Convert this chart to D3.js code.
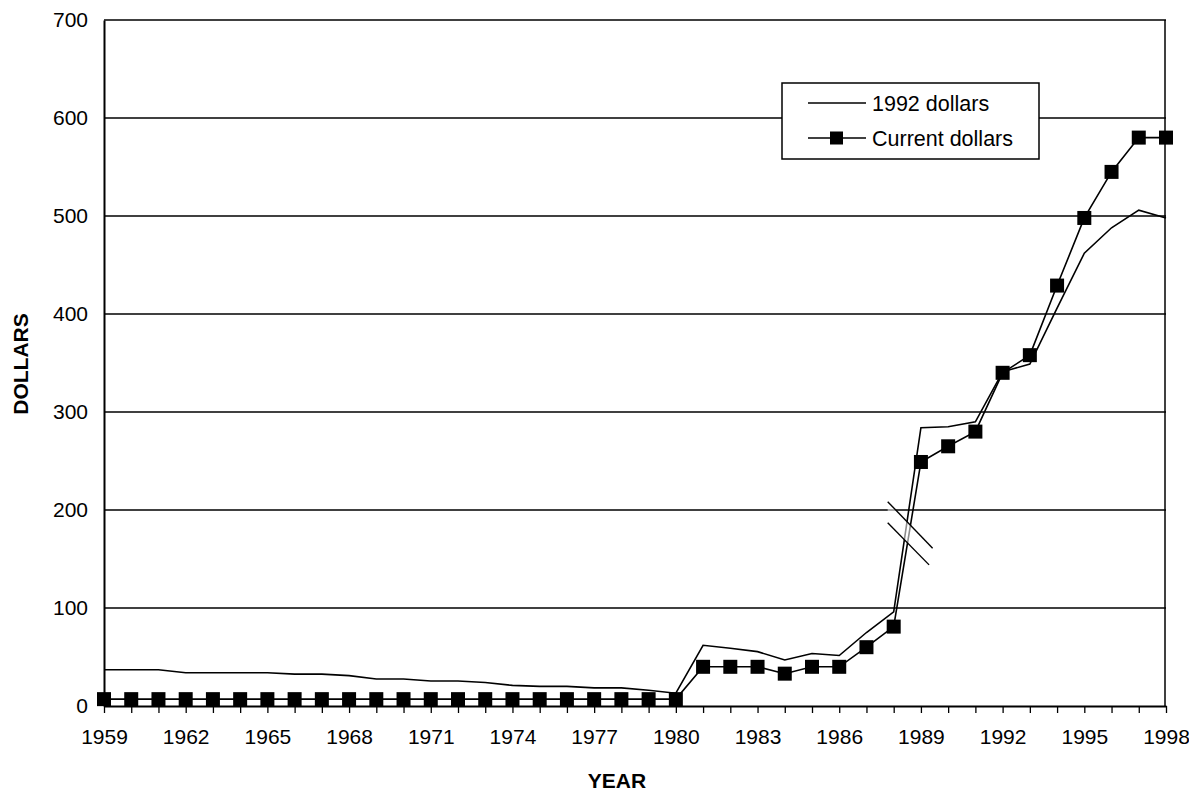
<!DOCTYPE html>
<html><head><meta charset="utf-8">
<script src="https://cdn.jsdelivr.net/npm/d3@7"></script>
<style>body{margin:0;background:#fff}svg text{font-family:"Liberation Sans",Arial,sans-serif}</style>
</head><body><svg id="c" width="1189" height="791"></svg>
<script>
const years = d3.range(1959, 1999);
const dollars1992 = [37,37,37,34,34,34,34,32.5,32.5,31,27.5,27.5,25.5,25.5,24,21,20,20,18.5,18.5,16,13,
  62,59,55.5,47,53.5,51.5,75,96,284,285,290,341,349,406,462,488,506,498];
const currentDollars = [7,7,7,7,7,7,7,7,7,7,7,7,7,7,7,7,7,7,7,7,7,7,
  40,40,40,33,40,40,60,81,249,265,280,340,358,429,498,545,580,580];
const yTicks = [0,100,200,300,400,500,600,700];
const xTickYears = d3.range(1959, 1999, 3);
const seriesNames = ["1992 dollars","Current dollars"];
const breakMarks = [[[1987.78,208.5],[1989.43,161]],[[1987.78,187],[1989.3,144]]];

const svg = d3.select("#c");
const L=104, R=1166, T=20, B=706;
const x = d3.scaleLinear().domain([1959,1998]).range([L,R]);
const y = d3.scaleLinear().domain([0,700]).range([B,T]);
const FONT="Liberation Sans, Arial, sans-serif";

// gridlines
svg.append("g").selectAll("line").data(yTicks.filter(v=>v>0 && v<700)).join("line")
  .attr("x1",L).attr("x2",R).attr("y1",d=>y(d)).attr("y2",d=>y(d))
  .attr("stroke","#000").attr("stroke-width",1.3);
// frame top/right
svg.append("line").attr("x1",L).attr("x2",R).attr("y1",y(700)).attr("y2",y(700)).attr("stroke","#000").attr("stroke-width",1.5);
svg.append("line").attr("x1",R-1).attr("x2",R-1).attr("y1",T).attr("y2",B).attr("stroke","#000").attr("stroke-width",1.5);

// y axis
const ya = d3.axisLeft(y).tickValues(yTicks).tickSize(0).tickPadding(16);
const gy = svg.append("g").attr("transform",`translate(${L},0)`).call(ya);
gy.select(".domain").attr("stroke","#000").attr("stroke-width",2);
gy.selectAll("text").attr("font-size",21).attr("fill","#000").attr("font-family",FONT);

// x axis
const xa = d3.axisBottom(x).tickValues(years).tickSize(7).tickSizeOuter(0).tickPadding(16)
  .tickFormat(d=> xTickYears.includes(d) ? String(d) : "");
const gx = svg.append("g").attr("transform",`translate(0,${B})`).call(xa);
gx.select(".domain").attr("stroke","#000").attr("stroke-width",2);
gx.selectAll(".tick line").attr("stroke","#000").attr("stroke-width",1.3);
gx.selectAll("text").attr("font-size",21).attr("fill","#000").attr("font-family",FONT);

// axis titles
svg.append("text").attr("transform",`translate(28,${(T+B)/2+1}) rotate(-90)`).attr("text-anchor","middle")
  .attr("font-size",21).attr("font-weight","bold").text("DOLLARS");
svg.append("text").attr("x",617).attr("y",788).attr("text-anchor","middle")
  .attr("font-size",21).attr("font-weight","bold").text("YEAR");

const line = d3.line().x((d,i)=>x(years[i])).y(d=>y(d));
svg.append("path").datum(dollars1992).attr("d",line).attr("fill","none").attr("stroke","#000").attr("stroke-width",1.6);
svg.append("path").datum(currentDollars).attr("d",line).attr("fill","none").attr("stroke","#000").attr("stroke-width",1.6);

// break band
const b0=breakMarks[0], b1=breakMarks[1];
svg.append("path").attr("d",`M${x(b0[0][0])},${y(b0[0][1])}L${x(b0[1][0])},${y(b0[1][1])}L${x(b1[1][0])},${y(b1[1][1])}L${x(b1[0][0])},${y(b1[0][1])}Z`)
  .attr("fill","#fff").attr("opacity",0.55);
svg.append("g").selectAll("line").data(breakMarks).join("line")
  .attr("x1",d=>x(d[0][0])).attr("y1",d=>y(d[0][1])).attr("x2",d=>x(d[1][0])).attr("y2",d=>y(d[1][1]))
  .attr("stroke","#000").attr("stroke-width",1.4);

// markers
const ms=14;
svg.append("g").selectAll("rect").data(currentDollars).join("rect")
  .attr("x",(d,i)=>x(years[i])-ms/2).attr("y",d=>y(d)-ms/2).attr("width",ms).attr("height",ms).attr("fill","#000");

// legend
const lg = svg.append("g");
lg.append("rect").attr("x",782).attr("y",83).attr("width",257).attr("height",76).attr("fill","#fff").attr("stroke","#000").attr("stroke-width",1.5);
const rows=[103,138];
seriesNames.forEach((n,i)=>{
  lg.append("line").attr("x1",808).attr("x2",866).attr("y1",rows[i]).attr("y2",rows[i]).attr("stroke","#000").attr("stroke-width",1.5);
  if(i===1) lg.append("rect").attr("x",830).attr("y",rows[i]-6.5).attr("width",13).attr("height",13).attr("fill","#000");
  lg.append("text").attr("x",872).attr("y",rows[i]).attr("dy","0.35em").attr("font-size",21.5).text(n);
});
</script></body></html>
